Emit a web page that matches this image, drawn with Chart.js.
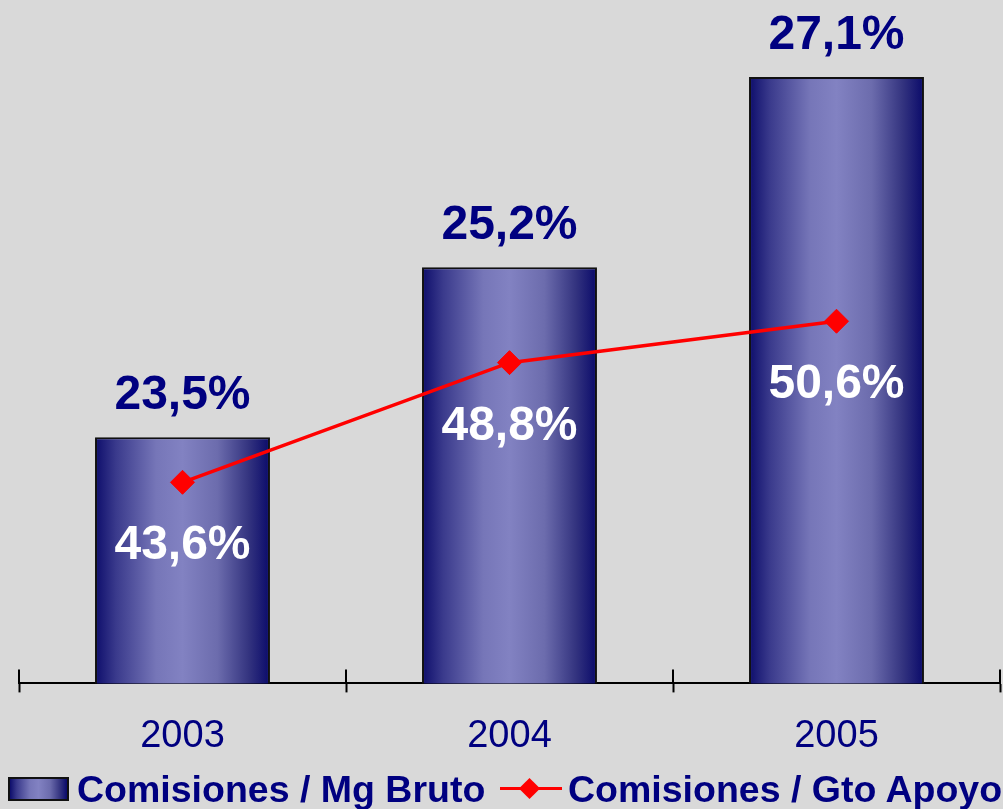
<!DOCTYPE html>
<html>
<head>
<meta charset="utf-8">
<title>Comisiones</title>
<script src="https://cdn.jsdelivr.net/npm/chart.js@4.4.1/dist/chart.umd.min.js"></script>
<style>
  body { margin: 0; background: #d9d9d9; overflow: hidden; }
  #wrap { position: relative; width: 1003px; height: 809px; }
  .leg { position: absolute; font: bold 37.5px "Liberation Sans", Arial, sans-serif; color: #000080; white-space: nowrap; line-height: 37px; }
  #boxIcon { position: absolute; left: 8px; top: 777px; width: 57px; height: 20px; border: 2px solid #111;
    background: linear-gradient(to right, #0d0d6b 0%, #3a3a8c 12%, #7676b8 35%, #8282c2 50%, #6c6cad 70%, #33337f 88%, #0a0a6a 100%); }
  #lineIcon { position: absolute; left: 500px; top: 787px; width: 62px; height: 3px; background: #ff0000; }
  #diamond { position: absolute; left: 522px; top: 781px; width: 15px; height: 15px; background: #ff0000; transform: rotate(45deg); }
</style>
</head>
<body>
<div id="wrap">
  <canvas id="comisionesChart"></canvas>
  <div id="boxIcon"></div>
  <span class="leg" id="leg1" style="left:77px; top:771px;"></span>
  <div id="lineIcon"></div>
  <div id="diamond"></div>
  <span class="leg" id="leg2" style="left:568px; top:771px;"></span>
</div>
<script>
const years = ['2003', '2004', '2005'];
const mgBruto = [23.5, 25.2, 27.1];
const gtoApoyo = [43.6, 48.8, 50.6];
const seriesNames = ['Comisiones / Mg Bruto', 'Comisiones / Gto Apoyo'];

const navy = '#000080';
const barPct = 0.535;

document.getElementById('leg1').textContent = seriesNames[0];
document.getElementById('leg2').textContent = seriesNames[1];

function fmt(v) {
  return v.toFixed(1).replace('.', ',') + '%';
}

function barGradient(c) {
  const chart = c.chart;
  const xs = chart.scales.x;
  if (!chart.chartArea || !xs || c.type !== 'data') return '#6a6ab0';
  const cx = xs.getPixelForValue(c.dataIndex);
  const half = xs.width / years.length * barPct / 2;
  const g = chart.ctx.createLinearGradient(cx - half, 0, cx + half, 0);
  g.addColorStop(0, '#0d0d6b');
  g.addColorStop(0.12, '#3a3a8c');
  g.addColorStop(0.35, '#7676b8');
  g.addColorStop(0.5, '#8282c2');
  g.addColorStop(0.7, '#6c6cad');
  g.addColorStop(0.88, '#33337f');
  g.addColorStop(1, '#0a0a6a');
  return g;
}

// value labels + the part of the axis ticks that sits above the line
const extras = {
  id: 'extras',
  afterDatasetsDraw(chart) {
    const ctx = chart.ctx;
    ctx.save();
    ctx.font = 'bold 48px "Liberation Sans", Arial, sans-serif';
    ctx.textAlign = 'center';
    ctx.textBaseline = 'alphabetic';
    chart.getDatasetMeta(0).data.forEach(function(bar, i) {
      ctx.fillStyle = navy;
      ctx.fillText(fmt(mgBruto[i]), bar.x, bar.y - 28);
    });
    chart.getDatasetMeta(1).data.forEach(function(pt, i) {
      ctx.fillStyle = '#ffffff';
      ctx.fillText(fmt(gtoApoyo[i]), pt.x, pt.y + 77);
    });
    ctx.restore();
  },
  afterDraw(chart) {
    const xs = chart.scales.x;
    const ctx = chart.ctx;
    ctx.save();
    ctx.strokeStyle = '#000';
    ctx.lineWidth = 2;
    for (let i = 0; i <= years.length; i++) {
      const x = Math.round(xs.getPixelForValue(i - 0.5));
      ctx.beginPath();
      ctx.moveTo(x, xs.top - 14);
      ctx.lineTo(x, xs.top);
      ctx.stroke();
    }
    ctx.restore();
  }
};

new Chart(document.getElementById('comisionesChart'), {
  type: 'bar',
  data: {
    labels: years,
    datasets: [{
      type: 'bar',
      label: seriesNames[0],
      data: mgBruto,
      yAxisID: 'y',
      order: 1,
      backgroundColor: barGradient,
      borderColor: '#111111',
      borderWidth: 2,
      barPercentage: barPct,
      categoryPercentage: 1
    }, {
      type: 'line',
      label: seriesNames[1],
      data: gtoApoyo,
      yAxisID: 'y2',
      order: 0,
      borderColor: '#ff0000',
      borderWidth: 3.5,
      tension: 0,
      pointStyle: 'rectRot',
      pointRadius: 12,
      pointBackgroundColor: '#ff0000',
      pointBorderColor: '#ff0000',
      pointBorderWidth: 1
    }]
  },
  options: {
    responsive: true,
    maintainAspectRatio: false,
    animation: false,
    layout: { autoPadding: false, padding: { left: 19, right: 3, top: 0, bottom: 29 } },
    plugins: {
      legend: { display: false },
      tooltip: { enabled: false }
    },
    scales: {
      x: {
        offset: true,
        grid: {
          offset: true,
          drawOnChartArea: false,
          drawTicks: true,
          tickLength: 9,
          tickColor: '#000',
          tickWidth: 2
        },
        border: { display: true, color: '#000', width: 2 },
        ticks: {
          color: navy,
          padding: 21,
          font: { family: '"Liberation Sans", Arial, sans-serif', size: 38 }
        }
      },
      y: { display: false, min: 21.04, max: 27.87 },
      y2: { display: false, min: 34.86, max: 64.56 }
    }
  },
  plugins: [extras]
});
</script>
</body>
</html>
